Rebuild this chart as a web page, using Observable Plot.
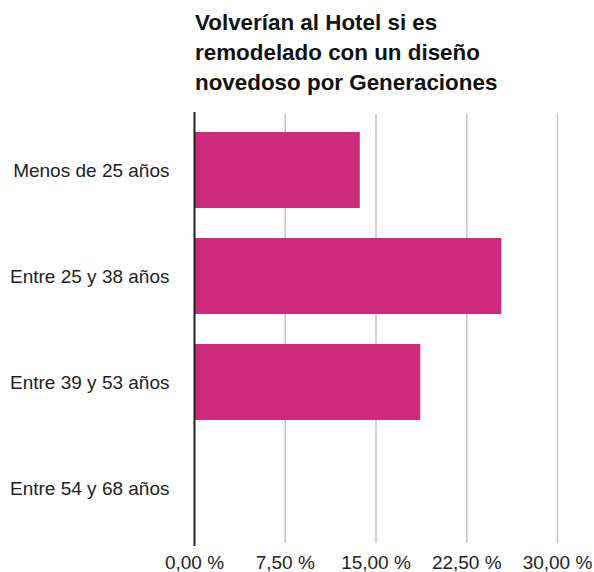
<!DOCTYPE html>
<html>
<head>
<meta charset="utf-8">
<script src="https://cdn.jsdelivr.net/npm/d3@7"></script>
<script src="https://cdn.jsdelivr.net/npm/@observablehq/plot@0.6"></script>
<style>
  html, body { margin: 0; padding: 0; background: #fff; }
  body { width: 594px; height: 572px; overflow: hidden; font-family: "Liberation Sans", Arial, Helvetica, sans-serif; }
  #title { box-sizing: border-box; height: 98px; padding: 8px 0 0 195px; font-size: 22.4px; font-weight: bold; line-height: 30px; color: #111; }
  #chart svg { display: block; }
</style>
</head>
<body>
<div id="title">Volverían al Hotel si es<br>remodelado con un diseño<br>novedoso por Generaciones</div>
<div id="chart"></div>
<script>
const categories = ["Menos de 25 años", "Entre 25 y 38 años", "Entre 39 y 53 años", "Entre 54 y 68 años"];
const values = [13.7, 25.4, 18.7, 0];
const xTicks = [0, 7.5, 15, 22.5, 30];
const barColor = "#cd2a7b";

const data = categories.map((c, i) => ({category: c, value: values[i]}));
const fmt = d => d.toFixed(2).replace(".", ",") + " %";

const chart = Plot.plot({
  width: 594,
  height: 474,
  marginTop: 16,
  marginBottom: 27,
  marginLeft: 194,
  marginRight: 37,
  style: {fontFamily: '"Liberation Sans", Arial, Helvetica, sans-serif', fontSize: "19px", color: "#222", background: "#fff"},
  x: {domain: [0, 30], ticks: xTicks, tickFormat: fmt, tickSize: 0, tickPadding: 10, label: null},
  y: {domain: categories, paddingInner: 0.28, paddingOuter: 0.16, tickSize: 0, tickPadding: 25, label: null},
  marks: [
    Plot.ruleX(xTicks.filter(d => d > 0), {stroke: "#c4c4c4", strokeWidth: 1.5, insetBottom: 2}),
    Plot.barX(data, {y: "category", x: "value", fill: barColor}),
    Plot.ruleX([0], {stroke: "#222", strokeWidth: 2, insetTop: -2, insetBottom: -1})
  ]
});
document.getElementById("chart").appendChild(chart);
</script>
</body>
</html>
